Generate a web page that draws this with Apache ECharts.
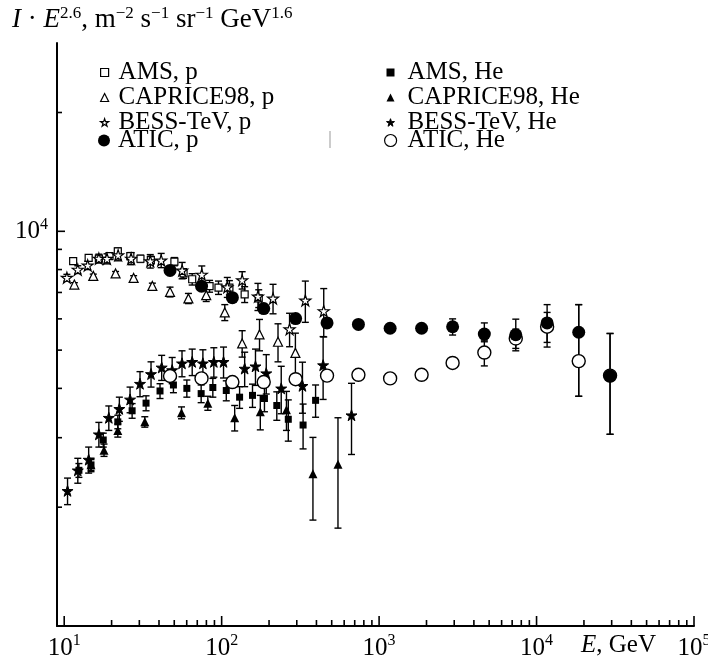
<!DOCTYPE html>
<html><head><meta charset="utf-8">
<script src="https://cdn.jsdelivr.net/npm/echarts@6/dist/echarts.min.js"></script>
<style>html,body{margin:0;padding:0;background:#fff}#c{width:708px;height:660px}</style>
</head><body><div id="c"></div>
<script>
// ---------- data ----------
const amsP_E   = [11.4, 14.3, 16.6, 19.4, 21.9, 26.3, 30.5, 35.5, 50.1, 57.3, 65, 83.8, 95.5, 112, 140, 172];
const amsP_V   = [8400, 8560, 8530, 8650, 8900, 8650, 8520, 8450, 8380, 7820, 7560, 7260, 7200, 7200, 6920, 6760];
const amsP_Err = [150, 150, 150, 150, 180, 180, 180, 200, 200, 220, 250, 250, 280, 300, 320, 350];

const capP_E   = [11.6, 15.3, 21.2, 27.6, 36.3, 47, 61.5, 79.8, 104.7, 135, 174, 228, 294];
const capP_V   = [7330, 7710, 7820, 7620, 7270, 7020, 6760, 6890, 6230, 5200, 5480, 5250, 4920];
const capP_Err = [80, 80, 90, 100, 120, 200, 200, 250, 290, 400, 500, 580, 600];

const bessP_E   = [10.4, 12.2, 14.1, 16.6, 18.7, 22.0, 26.6, 35.2, 41.3, 56.1, 74.8, 108.6, 135, 170, 212, 270, 340, 445];
const bessP_V   = [7630, 8000, 8200, 8530, 8520, 8700, 8530, 8400, 8440, 7960, 7770, 7220, 7520, 6840, 6760, 5650, 6680, 6280];
const bessP_Err = [150, 180, 200, 220, 250, 280, 300, 330, 350, 380, 400, 420, 380, 540, 580, 550, 800, 880];

const aticE     = [47, 74.5, 117, 185, 295, 467, 739, 1175, 1862, 2930, 4660, 7380, 11670, 18530, 29300];
const aticP_V   = [7960, 7260, 6790, 6370, 6010, 5860, 5810, 5680, 5680, 5730, 5490, 5470, 5860, 5550, 4300];
const aticP_Lo  = [0, 0, 0, 0, 0, 0, 0, 0, 0, 270, 240, 490, 770, 1730, 1240];
const aticP_Hi  = [0, 0, 0, 0, 0, 0, 0, 0, 0, 270, 370, 520, 660, 970, 1210];

const amsHe_E   = [12.4, 14.8, 17.7, 21.9, 27.0, 33.1, 40.6, 49.4, 60.1, 74.1, 87.9, 107, 130, 157, 187, 224, 265, 329, 395];
const amsHe_V   = [2480, 2560, 2960, 3290, 3510, 3670, 3940, 4080, 4000, 3880, 4020, 3950, 3800, 3840, 3770, 3620, 3340, 3230, 3730];
const amsHe_Err = [100, 100, 120, 130, 150, 160, 170, 180, 200, 200, 220, 230, 240, 260, 280, 300, 400, 420, 350];

const capHe_E   = [14.8, 17.9, 21.9, 32.5, 55.6, 81.7, 121, 176, 258, 380, 548];
const capHe_V   = [2560, 2790, 3130, 3290, 3470, 3670, 3370, 3490, 3530, 2430, 2570];
const capHe_Err = [80, 100, 120, 100, 120, 150, 250, 350, 400, 575, 800];

const bessHe_E   = [10.5, 12.2, 14.3, 16.6, 19.2, 22.4, 26.2, 30.3, 35.6, 41.6, 48.5, 56.0, 65, 76, 89.2, 102.8, 140, 164, 192, 239, 326, 441, 668];
const bessHe_V   = [2200, 2480, 2640, 3060, 3370, 3550, 3750, 4110, 4350, 4520, 4450, 4630, 4670, 4630, 4670, 4670, 4490, 4550, 4370, 4000, 4060, 4580, 3420];
const bessHe_Err = [170, 180, 200, 220, 240, 250, 280, 300, 320, 330, 340, 350, 360, 380, 400, 420, 450, 480, 500, 550, 600, 830, 700];

const aticHe_V  = [4300, 4240, 4150, 4150, 4220, 4310, 4330, 4240, 4330, 4640, 4930, 5350, 5730, 4690, 4310];
const aticHe_Lo = [0, 0, 0, 0, 0, 0, 0, 0, 0, 100, 370, 300, 500, 870, 1250];
const aticHe_Hi = [0, 0, 0, 0, 0, 0, 0, 0, 0, 100, 370, 300, 500, 1830, 1200];

const X_MIN = 9, X_MAX = 100000, Y_MIN = 1000, Y_MAX = 30000;

// ---------- helpers ----------
const FONT = '"Liberation Serif", "Times New Roman", serif';
const STAR = 'path://M50,0 L61.8,35.4 L99,35.4 L69,57.3 L80.3,92.7 L50,70.8 L19.7,92.7 L31,57.3 L1,35.4 L38.2,35.4 Z';
const openStyle = {color: '#fff', borderColor: '#000', borderWidth: 1.2, opacity: 1};
const fillStyle = {color: '#000', borderColor: '#000', borderWidth: 0, opacity: 1};
const fillStarStyle = {color: '#000', borderColor: '#000', borderWidth: 1, opacity: 1};

function pts(E, V) { return E.map((e, i) => [e, V[i]]); }
function symErr(E, V, err) { return E.map((e, i) => [e, V[i] - err[i], V[i] + err[i]]).filter((d, i) => err[i] > 0); }
function asymErr(E, V, lo, hi) { return E.map((e, i) => [e, V[i] - lo[i], V[i] + hi[i]]).filter((d, i) => lo[i] + hi[i] > 0); }

function errRender(params, api) {
  const x = api.value(0), lo = api.value(1), hi = api.value(2);
  const a = api.coord([x, lo]), b = api.coord([x, hi]);
  const c = 3.5;
  const st = {stroke: '#000', lineWidth: 1.4, fill: null};
  return {type: 'group', children: [
    {type: 'line', shape: {x1: a[0], y1: a[1], x2: b[0], y2: b[1]}, style: st},
    {type: 'line', shape: {x1: a[0] - c, y1: a[1], x2: a[0] + c, y2: a[1]}, style: st},
    {type: 'line', shape: {x1: b[0] - c, y1: b[1], x2: b[0] + c, y2: b[1]}, style: st}
  ]};
}
function errSeries(name, data) {
  return {name: name, type: 'custom', renderItem: errRender, data: data, encode: {x: 0, y: [1, 2]},
          silent: true, clip: false, z: 1};
}
function scat(name, data, symbol, size, style, z) {
  return {name: name, type: 'scatter', data: data, symbol: symbol, symbolSize: size,
          itemStyle: style, z: z || 3, silent: true, emphasis: {disabled: true}};
}

// tick positions (axis decoration)
const xTicks = [];
for (let k = 1; k <= 4; k++) for (let m = 1; m <= 9; m++) xTicks.push([m * Math.pow(10, k), Y_MIN, m === 1 ? 1 : 0]);
xTicks.push([100000, Y_MIN, 1]);
const yTicks = [];
[2000, 3000, 4000, 5000, 6000, 7000, 8000, 9000, 10000, 20000].forEach(v => yTicks.push([X_MIN, v, v === 10000 ? 1 : 0]));

function xTickRender(params, api) {
  const p = api.coord([api.value(0), api.value(1)]);
  const len = api.value(2) ? 10 : 6;
  return {type: 'line', shape: {x1: p[0], y1: p[1], x2: p[0], y2: p[1] - len}, style: {stroke: '#000', lineWidth: 1.6}};
}
function yTickRender(params, api) {
  const p = api.coord([api.value(0), api.value(1)]);
  const len = api.value(2) ? 8 : 5;
  return {type: 'line', shape: {x1: p[0], y1: p[1], x2: p[0] + len, y2: p[1]}, style: {stroke: '#000', lineWidth: 1.6}};
}

const labelRich = {
  b: {fontFamily: FONT, fontSize: 25, lineHeight: 30, color: '#000'},
  s: {fontFamily: FONT, fontSize: 16, lineHeight: 16, verticalAlign: 'top', color: '#000'}
};
function isPow(v, p) { const l = Math.log10(v); return Math.abs(l - Math.round(l)) < 1e-6 && (p === undefined || Math.round(l) === p); }

const legendText = (pad) => ({fontFamily: FONT, fontSize: 25, lineHeight: 23, color: '#000', padding: [0, 0, 0, pad]});
function legendBase(left, top, size, pad, data) {
  return {orient: 'vertical', left: left, top: top, itemWidth: size, itemHeight: size, itemGap: 0,
          padding: 0, selectedMode: false, textStyle: legendText(pad), data: data};
}

const option = {
  animation: false,
  backgroundColor: '#fff',
  grid: {left: 57, right: 14, top: 43, bottom: 34, containLabel: false, outerBoundsMode: 'none'},
  xAxis: {
    type: 'log', logBase: 10, min: X_MIN, max: X_MAX,
    axisLine: {show: true, onZero: false, lineStyle: {color: '#000', width: 2}},
    axisTick: {show: false}, splitLine: {show: false}, minorTick: {show: false},
    axisLabel: {margin: 7, showMinLabel: true, showMaxLabel: true,
      formatter: v => isPow(v) && v >= 10 ? '{b|10}{s|' + Math.round(Math.log10(v)) + '}' : '',
      rich: labelRich}
  },
  yAxis: {
    type: 'log', logBase: 10, min: Y_MIN, max: Y_MAX,
    axisLine: {show: true, onZero: false, lineStyle: {color: '#000', width: 2}},
    axisTick: {show: false}, splitLine: {show: false}, minorTick: {show: false},
    axisLabel: {margin: 9, formatter: v => isPow(v, 4) ? '{b|10}{s|4}' : '', rich: labelRich}
  },
  legend: [
    legendBase(100, 60, 8, 5, [
      {name: 'AMS, p', icon: 'rect', itemStyle: openStyle},
      {name: 'CAPRICE98, p', icon: 'triangle', itemStyle: openStyle},
      {name: 'BESS-TeV, p', icon: STAR, itemStyle: openStyle}]),
    legendBase(98, 128, 12, 3, [
      {name: 'ATIC, p', icon: 'circle', itemStyle: fillStyle}]),
    legendBase(386, 60, 8, 8, [
      {name: 'AMS, He', icon: 'rect', itemStyle: fillStyle},
      {name: 'CAPRICE98, He', icon: 'triangle', itemStyle: fillStyle},
      {name: 'BESS-TeV, He', icon: STAR, itemStyle: fillStarStyle}]),
    legendBase(384, 128, 12, 6, [
      {name: 'ATIC, He', icon: 'circle', itemStyle: openStyle}])
  ],
  graphic: [
    {type: 'text', left: 12, top: 5, silent: true, style: {
      text: '{i|I}{b| · }{i|E}{s|2.6}{b|, m}{s|−2}{b| s}{s|−1}{b| sr}{s|−1}{b| GeV}{s|1.6}',
      fill: '#000', fontFamily: FONT, fontSize: 27,
      rich: {
        b: {fontFamily: FONT, fontSize: 27, lineHeight: 30, fill: '#000'},
        i: {fontFamily: FONT, fontSize: 27, lineHeight: 30, fontStyle: 'italic', fill: '#000'},
        s: {fontFamily: FONT, fontSize: 17, lineHeight: 17, verticalAlign: 'top', fill: '#000'}
      }}},
    {type: 'text', left: 581, top: 633, silent: true, style: {
      text: '{i|E}{b|, GeV}', fill: '#000', fontFamily: FONT, fontSize: 25,
      rich: {
        b: {fontFamily: FONT, fontSize: 25, lineHeight: 30, fill: '#000'},
        i: {fontFamily: FONT, fontSize: 25, lineHeight: 30, fontStyle: 'italic', fill: '#000'}
      }}},
    {type: 'line', silent: true, shape: {x1: 330, y1: 131, x2: 330, y2: 148}, style: {stroke: '#999', lineWidth: 1}}
  ],
  series: [
    {name: 'xticks', type: 'custom', renderItem: xTickRender, data: xTicks, encode: {x: 0, y: 1}, silent: true, clip: false, z: 5},
    {name: 'yticks', type: 'custom', renderItem: yTickRender, data: yTicks, encode: {x: 0, y: 1}, silent: true, clip: false, z: 5},

    errSeries('e1', symErr(amsP_E, amsP_V, amsP_Err)),
    errSeries('e2', symErr(capP_E, capP_V, capP_Err)),
    errSeries('e3', symErr(bessP_E, bessP_V, bessP_Err)),
    errSeries('e4', asymErr(aticE, aticP_V, aticP_Lo, aticP_Hi)),
    errSeries('e5', symErr(amsHe_E, amsHe_V, amsHe_Err)),
    errSeries('e6', symErr(capHe_E, capHe_V, capHe_Err)),
    errSeries('e7', symErr(bessHe_E, bessHe_V, bessHe_Err)),
    errSeries('e8', asymErr(aticE, aticHe_V, aticHe_Lo, aticHe_Hi)),

    scat('AMS, p', pts(amsP_E, amsP_V), 'rect', 7, openStyle),
    scat('CAPRICE98, p', pts(capP_E, capP_V), 'triangle', 9, openStyle),
    scat('BESS-TeV, p', pts(bessP_E, bessP_V), STAR, 11, openStyle),
    scat('AMS, He', pts(amsHe_E, amsHe_V), 'rect', 7, fillStyle),
    scat('CAPRICE98, He', pts(capHe_E, capHe_V), 'triangle', 9, fillStyle),
    scat('BESS-TeV, He', pts(bessHe_E, bessHe_V), STAR, 11, fillStarStyle),
    scat('ATIC, He', pts(aticE, aticHe_V), 'circle', 13, {color: '#fff', borderColor: '#000', borderWidth: 1.4, opacity: 1}, 4),
    scat('ATIC, p', pts(aticE, aticP_V), 'circle', 13, fillStyle, 4)
  ]
};

const chart = echarts.init(document.getElementById('c'), null, {renderer: 'canvas'});
chart.setOption(option);
</script>
</body></html>
